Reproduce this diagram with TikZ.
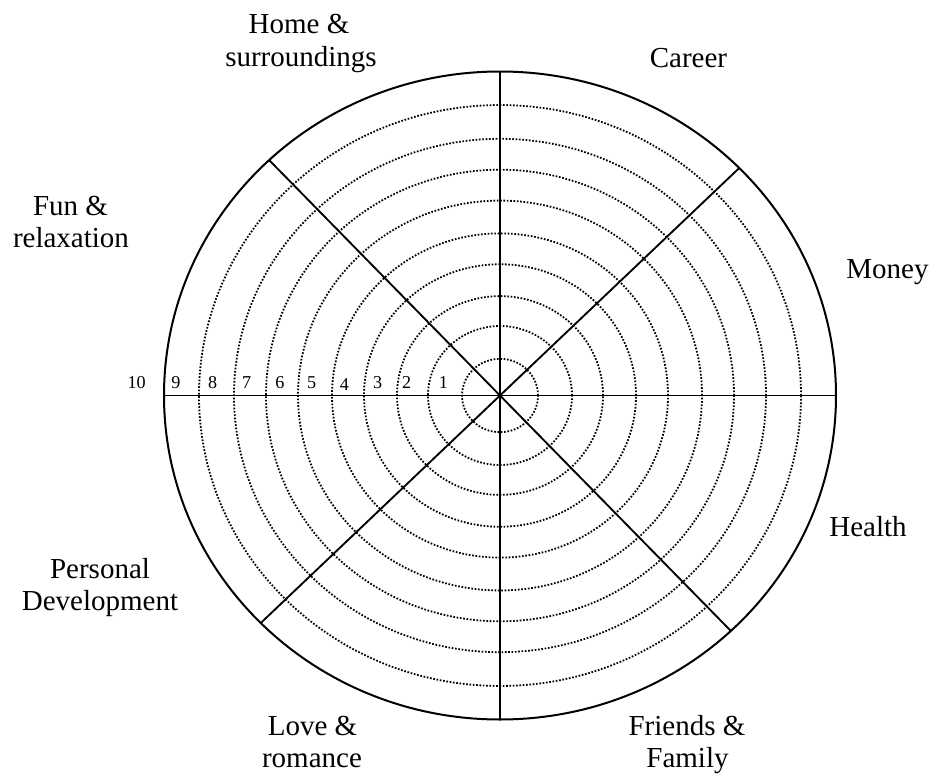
\documentclass[tikz,border=0pt]{standalone}
\usepackage{fontspec}
\setmainfont{Liberation Serif}
\newcommand{\lblfont}{\fontsize{21.75pt}{26pt}\selectfont}
\newcommand{\numfont}{\fontsize{13.6pt}{16pt}\selectfont}
\begin{document}
\begin{tikzpicture}[x=0.75pt,y=-0.75pt,
  rim/.style={line width=1.5pt},
  spoke/.style={line width=1.4pt},
  ring/.style={line width=1.35pt, dash pattern=on 1.25pt off 1.25pt},
  lbl/.style={font=\lblfont, anchor=base, inner sep=0pt},
  num/.style={font=\numfont, anchor=base, inner sep=0pt}]
\useasboundingbox (0,0) rectangle (933,775);

\coordinate (O) at (500,395.5);

% dotted score rings 1..9 (horizontal radius in px)
\foreach \r in {38,72,103,136,168,202,234,266,301}
  \draw[ring] (O) ellipse [x radius={\r*0.75pt}, y radius={\r*0.965*0.75pt}];

% outer rim
\draw[rim] (O) ellipse [x radius=252pt, y radius=243pt];

% spoke end points on the rim
\path (O) ++(90:252pt and 243pt)    coordinate (top);
\path (O) ++(270:252pt and 243pt)   coordinate (bot);
\path (O) ++(180:252pt and 243pt)   coordinate (lft);
\path (O) ++(0:252pt and 243pt)     coordinate (rgt);
\path (O) ++(133.4:252pt and 243pt) coordinate (ul);
\path (O) ++(313.4:252pt and 243pt) coordinate (lr);
\path (O) ++(44.6:252pt and 243pt)  coordinate (ur);
\path (O) ++(224.6:252pt and 243pt) coordinate (ll);

\draw[spoke] (top) -- (bot);
\draw[spoke] (lft) -- (rgt);
\draw[spoke] (ul) -- (lr);
\draw[spoke] (ur) -- (ll);

% scale numbers
\node[num] (n1)  at (443.3,388) {1};
\node[num] (n2)  at (406.7,388) {2};
\node[num] (n3)  at (377.7,388) {3};
\node[num] (n4)  at (344.3,390) {4};
\node[num] (n5)  at (311.7,388) {5};
\node[num] (n6)  at (280,388)   {6};
\node[num] (n7)  at (246.7,388) {7};
\node[num] (n8)  at (212.7,388) {8};
\node[num] (n9)  at (176,388)   {9};
\node[num] (n10) at (136.7,388) {10};

% life areas
\node[lbl] (home1) at (299,33)  {Home \&};
\node[lbl] (home2) at (301,66)  {surroundings};
\node[lbl] (career) at (688.5,67) {Career};
\node[lbl] (money) at (887.5,278) {Money};
\node[lbl] (fun1) at (70.5,215) {Fun \&};
\node[lbl] (fun2) at (71,247)   {relaxation};
\node[lbl] (health) at (868,536) {Health};
\node[lbl] (pers1) at (100,578) {Personal};
\node[lbl] (pers2) at (100,610) {Development};
\node[lbl] (love1) at (312.5,735) {Love \&};
\node[lbl] (love2) at (312,767)   {romance};
\node[lbl] (fr1) at (687,735) {Friends \&};
\node[lbl] (fr2) at (687.5,767) {Family};
\end{tikzpicture}
\end{document}
